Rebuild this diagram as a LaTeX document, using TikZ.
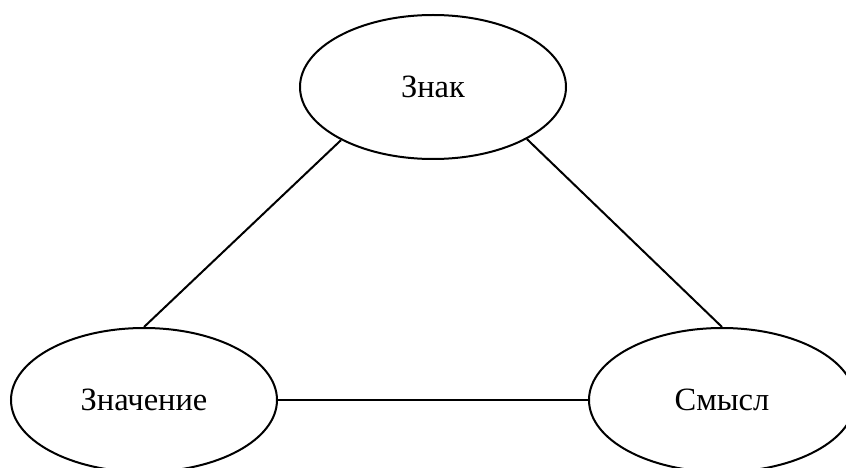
\documentclass[tikz,border=0pt]{standalone}
\usepackage{fontspec}
\setmainfont{Liberation Serif}
\usetikzlibrary{shapes.geometric}
\begin{document}
\begin{tikzpicture}[x=1pt,y=-1pt,
  oval/.style={draw=black, line width=2pt, ellipse, inner sep=0pt,
    minimum width=266pt, minimum height=144pt,
    font=\fontsize{32.5}{38}\selectfont},
  link/.style={draw=black, line width=2pt}]
\useasboundingbox (0,0) rectangle (846,468);
\clip (0,0) rectangle (846,468);
\fill[white] (0,0) rectangle (846,468);
\node[oval] (znak) at (433,87) {Знак};
\node[oval] (znach) at (144,400) {Значение};
\node[oval] (smysl) at (722,400) {Смысл};
\draw[link] (znak.210) -- (znach.90);
\draw[link] (znak.331) -- (smysl.90);
\draw[link] (znach.east) -- (smysl.west);
\end{tikzpicture}
\end{document}
